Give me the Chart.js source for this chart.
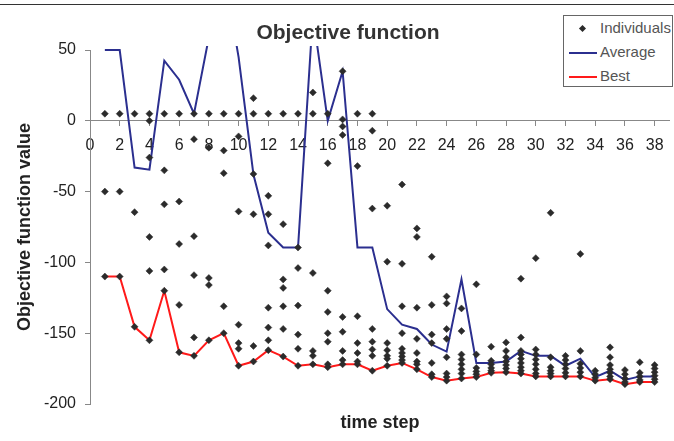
<!DOCTYPE html>
<html>
<head>
<meta charset="utf-8">
<script src="https://cdn.jsdelivr.net/npm/chart.js@4.4.1/dist/chart.umd.min.js"></script>
<style>
  body { margin: 0; background: #fff; }
  #caixa { position: relative; width: 674px; height: 441px; overflow: hidden; font-family: "Liberation Sans", Arial, sans-serif; }
  #moldura { position: absolute; left: 0; top: 4px; width: 674px; border-top: 1px solid #333; }
  #titulo { position: absolute; left: 198px; width: 300px; top: 21px; text-align: center; font-weight: bold; font-size: 21px; line-height: 22px; color: #333; }
  #eixoX { position: absolute; left: 300px; width: 160px; top: 412px; text-align: center; font-weight: bold; font-size: 18px; line-height: 20px; color: #222; }
  #legenda { position: absolute; left: 563px; top: 15px; width: 110px; height: 72px; border: 1px solid #666; box-sizing: border-box; background: #fff; }
  .item { position: absolute; left: 36px; font-size: 15px; line-height: 18px; color: #555; }
  .traco { position: absolute; left: 5px; width: 28px; height: 2px; }
  .losango { position: absolute; left: 16px; width: 5px; height: 5px; background: #2b2b2b; transform: rotate(45deg); }
</style>
</head>
<body>
<div id="caixa">
  <canvas id="grafico" width="674" height="441"></canvas>
  <div id="moldura"></div>
  <div id="titulo">Objective function</div>
  <div id="eixoX">time step</div>
  <div id="legenda">
    <div class="losango" style="top:10px"></div>
    <div class="item" style="top:3px">Individuals</div>
    <div class="traco" style="top:36px;background:#2b2f8f"></div>
    <div class="item" style="top:27px">Average</div>
    <div class="traco" style="top:60px;background:#ff1a1a"></div>
    <div class="item" style="top:51px">Best</div>
  </div>
</div>
<script>
// passos de tempo (eixo X)
const passos = [1, 2, 3, 4, 5, 6, 7, 8, 9, 10, 11, 12, 13, 14, 15, 16, 17, 18, 19,
                20, 21, 22, 23, 24, 25, 26, 27, 28, 29, 30, 31, 32, 33, 34, 35, 36, 37, 38];

// media da populacao em cada passo
const media = [50, 50, -33, -34.5, 42.5, 29, 5, 59, 106, 45, -38, -79, -89.5, -89.5, 75, 0, 35, -89.5, -89.5,
               -133, -144, -147, -158, -163, -112, -171, -171, -170, -162.5, -166, -166, -173, -168, -181, -176.5, -183, -180.5, -180.5];

// melhor individuo em cada passo
const melhor = [-110, -110, -145.5, -155, -120, -163.5, -166, -155, -150, -173, -170, -162, -166.5, -173, -172, -174, -172, -172, -176.5,
                -173, -171, -175.5, -181, -183.5, -182, -181, -178, -177.5, -178.5, -180.5, -180.5, -180.5, -180.5, -183.5, -182.5, -186, -184.5, -184.5];

// valores de todos os individuos, um array por passo
const individuos = [
  [5, -50, -110],
  [5, -50, -110],
  [5, -64.5, -145.5],
  [5, 0, -26, -82, -106, -155],
  [5, -35, -59, -105, -120],
  [5, -57, -87, -130, -163.5],
  [5, -13, -81.5, -109, -153, -166],
  [5, -19, -111, -116, -155],
  [5, -21, -37, -131, -150],
  [5, -11, -64, -144, -157, -161, -173],
  [5, 16, -37.5, -66, -159, -170],
  [5, -53, -66, -88, -132, -146, -155, -162],
  [5, -73, -112, -118, -131, -147, -166.5],
  [5, -89.5, -104, -130.5, -151, -161, -173],
  [5, 20, -107.5, -162.5, -166, -172],
  [5, -30, -120, -135, -150, -156, -172, -174],
  [35, 1, -4, -10, -138.5, -149, -162.5, -169, -172],
  [5, -32, -138, -157, -164, -170, -172],
  [5, -7, -62, -147, -156, -161.5, -166, -176.5],
  [-60, -99.5, -157, -162, -166, -168, -173],
  [-45, -101, -131, -150, -161, -164, -166.5, -169, -171],
  [-76, -82, -132, -154, -164, -170, -172, -175.5],
  [-96, -130, -151, -157, -171, -179, -181],
  [-124, -129, -147, -154, -167, -178.5, -181, -183.5],
  [-132.5, -148.5, -165, -168.5, -172, -175.5, -178.5, -182],
  [-115.5, -165, -174.5, -177, -179, -181],
  [-159.5, -169.5, -172, -174.5, -176.5, -178],
  [-156.5, -162.5, -167, -170, -172.5, -175, -177.5],
  [-111.5, -153, -162.5, -165, -168, -171, -174, -176.5, -178.5],
  [-97, -161.5, -165, -168.5, -172, -175.5, -178.5, -180.5],
  [-65, -167, -174, -176.5, -178.5, -180.5],
  [-166, -169, -172, -175, -178, -180.5],
  [-94, -162.5, -171.5, -174.5, -177.5, -180.5],
  [-176.5, -179, -181.5, -183.5],
  [-160, -167, -172.5, -175.5, -178, -180.5, -182.5],
  [-176, -179, -182, -184.5, -186],
  [-170.5, -178, -180.5, -183, -184.5],
  [-172.5, -175, -177.5, -180, -182.5, -184.5]
];

const yTicks = [-200, -150, -100, -50, 0, 50];
const xTicks = [0, 2, 4, 6, 8, 10, 12, 14, 16, 18, 20, 22, 24, 26, 28, 30, 32, 34, 36, 38];

const pontos = [];
individuos.forEach((lista, i) => {
    lista.forEach(v => pontos.push({ x: passos[i], y: v }));
});

const fonte = '"Liberation Sans", Arial, sans-serif';
const ctx = document.getElementById('grafico').getContext('2d');

const grafico = new Chart(ctx, {
    type: 'scatter',
    data: {
        datasets: [
            {
                label: 'Individuals',
                data: pontos,
                pointStyle: 'rectRot',
                pointRadius: 3.5,
                backgroundColor: '#2b2b2b',
                borderColor: '#2b2b2b',
                borderWidth: 0.5
            },
            {
                label: 'Average',
                data: passos.map((p, i) => ({ x: p, y: media[i] })),
                showLine: true,
                borderColor: '#2b2f8f',
                borderWidth: 2,
                pointRadius: 0,
                clip: { left: 0, top: 4, right: 0, bottom: 0 }
            },
            {
                label: 'Best',
                data: passos.map((p, i) => ({ x: p, y: melhor[i] })),
                showLine: true,
                borderColor: '#ff1a1a',
                borderWidth: 2,
                pointRadius: 0
            }
        ]
    },
    options: {
        responsive: false,
        animation: false,
        events: [],
        layout: { padding: { left: 0, top: 50, right: 3, bottom: 37 } },
        plugins: {
            legend: { display: false },
            title: { display: false },
            tooltip: { enabled: false }
        },
        scales: {
            x: {
                type: 'linear',
                min: 0,
                max: 39,
                position: { y: 0 },
                afterBuildTicks: s => { s.ticks = xTicks.map(v => ({ value: v })); },
                grid: { display: true, drawOnChartArea: false, drawTicks: true, tickLength: 5, color: '#888' },
                border: { display: true, color: '#888', width: 1 },
                ticks: { color: '#222', font: { family: fonte, size: 16 }, padding: 10, maxRotation: 0, autoSkip: false }
            },
            y: {
                type: 'linear',
                min: -200,
                max: 50,
                afterBuildTicks: s => { s.ticks = yTicks.map(v => ({ value: v })); },
                afterFit: s => { s.width = 90; },
                grid: { display: true, drawOnChartArea: false, drawTicks: true, tickLength: 5, color: '#888' },
                border: { display: true, color: '#888', width: 1 },
                ticks: { color: '#222', font: { family: fonte, size: 16 }, padding: 9 },
                title: {
                    display: true,
                    text: 'Objective function value',
                    color: '#222',
                    font: { family: fonte, size: 18, weight: 'bold' },
                    padding: { top: 14, bottom: 0 }
                }
            }
        }
    }
});
</script>
</body>
</html>
